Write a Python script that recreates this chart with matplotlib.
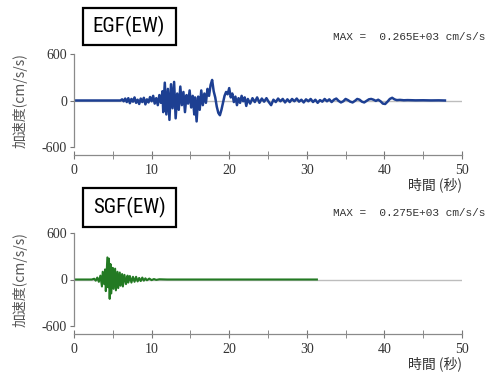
import matplotlib
matplotlib.use('Agg')
import matplotlib.pyplot as plt
from matplotlib import font_manager
from matplotlib.patches import Rectangle
from matplotlib.ticker import MultipleLocator

# EGF (EW) acceleration record (time s, cm/s/s)
egf_t = [0.0, 6.0, 6.2, 6.4, 6.6, 6.8, 7.0, 7.2, 7.4, 7.6, 7.8, 8.0, 8.2, 8.4, 8.6, 8.8,
         9.0, 9.2, 9.4, 9.6, 9.8, 10.0, 10.2, 10.4, 10.6, 10.8, 11.0, 11.2, 11.4, 11.5,
         11.7, 11.9, 12.1, 12.3, 12.5, 12.7, 12.9, 13.1, 13.3, 13.5, 13.7, 13.9, 14.1,
         14.3, 14.5, 14.7, 14.9, 15.1, 15.3, 15.5, 15.6, 15.8, 16.0, 16.2, 16.4, 16.6,
         16.8, 17.0, 17.2, 17.4, 17.6, 17.8, 18.0, 18.2, 18.4, 18.6, 18.8, 19.0, 19.2,
         19.4, 19.6, 19.8, 20.0, 20.2, 20.4, 20.6, 20.8, 21.0, 21.2, 21.4, 21.6, 21.8,
         22.0, 22.2, 22.4, 22.7, 23.0, 23.3, 23.6, 23.9, 24.2, 24.5, 24.8, 25.1, 25.4,
         25.7, 26.0, 26.3, 26.6, 26.9, 27.2, 27.5, 27.8, 28.1, 28.4, 28.7, 29.0, 29.3,
         29.6, 29.9, 30.2, 30.5, 30.8, 31.1, 31.4, 31.7, 32.0, 32.3, 32.6, 32.9, 33.2,
         33.5, 33.8, 34.1, 34.4, 34.7, 35.0, 35.3, 35.6, 35.9, 36.2, 36.5, 36.8, 37.1,
         37.4, 37.7, 38.0, 38.3, 38.6, 38.9, 39.2, 39.5, 39.8, 40.1, 40.4, 40.7, 41.0,
         41.3, 41.6, 42.0, 42.5, 43.0, 44.0, 45.0, 46.0, 47.0, 47.8]
egf_a = [0, 0, 15, -10, 25, -20, 30, -35, 20, -15, 40, -30, 10, -45, 25, -20,
         35, -50, 15, -25, 45, -10, 60, -40, 30, -60, 70, -30, 120, -150,
         230, -180, 150, -250, 210, -100, 240, -230, 90, -120, 180, -60, 110,
         -150, 70, -40, 130, -90, 60, -180, 40, -270, 50, -120, 130, -60,
         90, -30, 150, 60, 200, 265, 120, 40, -80, -160, -190, -120, -30,
         60, 110, 80, 160, 40, 90, -20, 50, -60, 30, -30, 60, -10,
         40, -70, 20, -40, 30, -20, 40, -30, 25, -15, 30, -20, -60,
         10, -20, 25, -10, 20, -25, 15, -20, 20, -10, 25, -15, 10,
         -25, 15, -10, 20, -20, 10, -30, 5, -15, 20, -10, 15, -20,
         10, 25, -5, -25, -10, 20, 5, -15, -25, -5, 20, 10, -15,
         -25, -5, 15, 20, 10, -5, 10, -10, -40, -45, -15, 20, 35,
         15, 5, 8, 3, 5, 2, 3, 1, 2, 0]

# SGF (EW) acceleration record
sgf_t = [0.0, 2.3, 2.6, 2.8, 3.0, 3.2, 3.4, 3.6, 3.7, 3.9, 4.0, 4.1, 4.3, 4.4, 4.5,
         4.6, 4.7, 4.8, 5.0, 5.1, 5.3, 5.4, 5.6, 5.7, 5.9, 6.0, 6.2, 6.3, 6.5, 6.7,
         6.9, 7.0, 7.2, 7.4, 7.6, 7.8, 8.0, 8.2, 8.4, 8.6, 8.8, 9.0, 9.2, 9.4, 9.7,
         10.0, 10.3, 10.6, 11.0, 12.0, 31.3]
sgf_a = [0, 0, 10, -15, 25, -30, 50, -90, 100, -60, 130, -150, 285, -100, 270,
         -250, 200, -180, 150, -120, 140, -140, 100, -110, 90, -80, 70, -90, 60, -60,
         50, -40, 45, -40, 35, -30, 35, -25, 20, -20, 25, -15, 15, -10, 12,
         -8, 6, -5, 3, 0, 0]

panels = [
    ('EGF(EW)', 'MAX =  0.265E+03 cm/s/s', egf_t, egf_a, '#1d3f92', 1.8),
    ('SGF(EW)', 'MAX =  0.275E+03 cm/s/s', sgf_t, sgf_a, '#237a23', 1.5),
]

plt.rcParams['font.family'] = ['Liberation Serif', 'Noto Sans CJK JP']
plt.rcParams['axes.unicode_minus'] = False

# a narrow face for the boxed titles, if one is installed
fonts = {(f.name, f.stretch) for f in font_manager.fontManager.ttflist}
names = {n for n, _ in fonts}
if 'Roboto Condensed' in names:
    title_font, title_size = dict(family='Roboto Condensed'), 15
elif ('DejaVu Sans', 'condensed') in fonts:
    title_font, title_size = dict(family='DejaVu Sans', stretch='condensed'), 14
else:
    title_font, title_size = dict(family='Liberation Sans'), 13

W, H = 487, 373
fig = plt.figure(figsize=(W / 100, H / 100), dpi=100)

# pixel rows: (y of +600, y of -600, title box top, box bottom, MAX text y)
rows = [(54, 147, 8, 45, 37), (233, 326, 188, 227, 213)]

for (title, maxtxt, t, a, col, lw), (ytop, ybot, btop, bbot, my) in zip(panels, rows):
    ax = fig.add_axes([74 / W, 1 - ybot / H, 388 / W, (ybot - ytop) / H])
    ax.plot([0, 50], [0, 0], color='#bdbdbd', lw=1.0, zorder=1)
    ax.plot(t, a, color=col, lw=lw, zorder=2)
    ax.set_xlim(0, 50)
    ax.set_ylim(-600, 600)
    ax.set_yticks([-600, 0, 600])
    ax.xaxis.set_major_locator(MultipleLocator(10))
    ax.xaxis.set_minor_locator(MultipleLocator(5))
    for s in ['top', 'right']:
        ax.spines[s].set_visible(False)
    ax.spines['bottom'].set_position(('outward', 6))
    for s in ['left', 'bottom']:
        ax.spines[s].set_color('#8a8a8a')
        ax.spines[s].set_linewidth(0.9)
    ax.tick_params(axis='x', which='both', direction='inout', length=6,
                   color='#777777', labelsize=10, labelcolor='#333333', pad=3)
    ax.tick_params(axis='y', direction='out', length=3, color='#777777',
                   labelsize=10, labelcolor='#333333', pad=2)
    ax.patch.set_visible(False)

    ax.set_ylabel('加速度(cm/s/s)', family=['Noto Sans CJK JP'], fontsize=10,
                  color='#555555')
    ax.yaxis.set_label_coords(-0.12, 0.5)
    ax.text(1.0, -38 / (ybot - ytop), '時間 (秒)',
            transform=ax.transAxes, ha='right', va='center',
            family=['Noto Sans CJK JP'], fontsize=10, color='#333333')

    fig.patches.append(Rectangle((83 / W, 1 - bbot / H), 93 / W, (bbot - btop) / H,
                                 transform=fig.transFigure, fill=False,
                                 ec='black', lw=1.6))
    fig.text(129 / W, 1 - (btop + bbot) / 2 / H, title, ha='center', va='center',
             fontsize=title_size, **title_font)
    fig.text(485 / W, 1 - my / H, maxtxt, ha='right', va='center',
             family=['Liberation Mono'], fontsize=8, color='#333333')

fig.savefig('out.png', dpi=100)
